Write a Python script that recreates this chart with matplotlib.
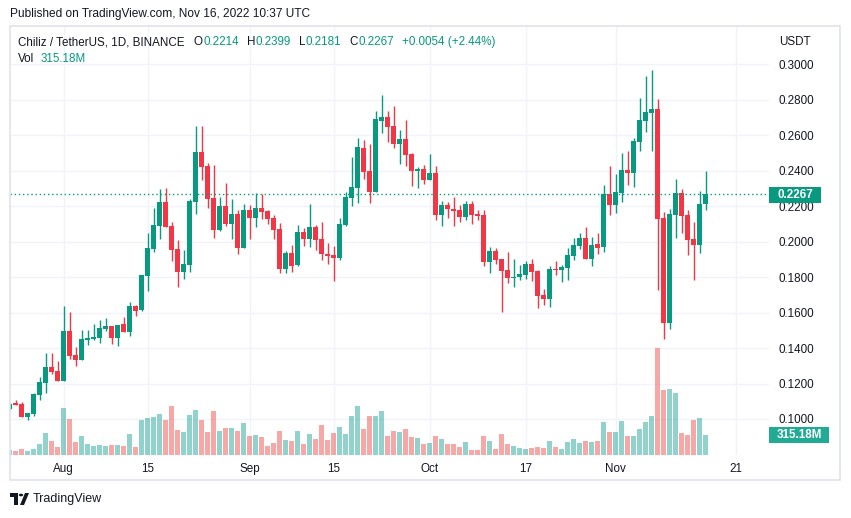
import matplotlib
matplotlib.use("Agg")
import matplotlib.pyplot as plt
import matplotlib.dates as mdates
import matplotlib.transforms as mtransforms
from matplotlib.patches import Rectangle, Polygon, Circle
import pandas as pd

plt.rcParams['font.family'] = ['Liberation Sans', 'DejaVu Sans']

# ---------------- data ----------------
dates = pd.date_range("2022-07-23", "2022-11-16", freq="D")
opens = [0.1058, 0.1090, 0.1082, 0.1011, 0.1026, 0.1135, 0.1203, 0.1291, 0.1269,
         0.1212, 0.1494, 0.1359, 0.1331, 0.1447, 0.1451, 0.1457, 0.1508, 0.1523, 0.1457,
         0.1534, 0.1491, 0.1636, 0.1613, 0.1807, 0.1957, 0.2089, 0.2223, 0.2089, 0.1957,
         0.1829, 0.1871, 0.2223, 0.2505, 0.2426, 0.2245, 0.2067, 0.2200, 0.2100, 0.2155,
         0.1965, 0.2178, 0.2134, 0.2189, 0.2172, 0.2132, 0.2070, 0.1844, 0.1935, 0.1867,
         0.2053, 0.2014, 0.2082, 0.2014, 0.1929, 0.1924, 0.1907, 0.2093, 0.2247, 0.2304,
         0.2528, 0.2398, 0.2281, 0.2682, 0.2703, 0.2652, 0.2552, 0.2578, 0.2494, 0.2400,
         0.2409, 0.2349, 0.2386, 0.2149, 0.2206, 0.2183, 0.2178, 0.2138, 0.2211, 0.2155,
         0.2149, 0.1884, 0.1946, 0.1901, 0.1839, 0.1794, 0.1799, 0.1810, 0.1873, 0.1833,
         0.1698, 0.1675, 0.1844, 0.1839, 0.1850, 0.1918, 0.1974, 0.2019, 0.1901, 0.1986,
         0.1969, 0.2268, 0.2206, 0.2274, 0.2403, 0.2386, 0.2561, 0.2680, 0.2727, 0.2748,
         0.2132, 0.1540, 0.2149, 0.2274, 0.2149, 0.2014, 0.1980, 0.2214]
highs = [0.1090, 0.1109, 0.1094, 0.1035, 0.1146, 0.1237, 0.1370, 0.1370, 0.1325,
         0.1636, 0.1602, 0.1406, 0.1500, 0.1500, 0.1534, 0.1557, 0.1568, 0.1526, 0.1528,
         0.1573, 0.1658, 0.1643, 0.1811, 0.2048, 0.2189, 0.2296, 0.2302, 0.2110, 0.2008,
         0.1952, 0.2242, 0.2652, 0.2652, 0.2443, 0.2432, 0.2251, 0.2330, 0.2240, 0.2178,
         0.2211, 0.2206, 0.2274, 0.2268, 0.2178, 0.2149, 0.2104, 0.1946, 0.1980, 0.2093,
         0.2076, 0.2211, 0.2093, 0.2110, 0.1991, 0.1974, 0.2132, 0.2279, 0.2477, 0.2584,
         0.2573, 0.2550, 0.2737, 0.2827, 0.2737, 0.2765, 0.2629, 0.2686, 0.2499, 0.2420,
         0.2432, 0.2494, 0.2426, 0.2228, 0.2223, 0.2251, 0.2206, 0.2228, 0.2228, 0.2178,
         0.2178, 0.1969, 0.1963, 0.1901, 0.1940, 0.1901, 0.1867, 0.1890, 0.1901, 0.1839,
         0.1731, 0.1861, 0.1890, 0.1867, 0.1963, 0.2019, 0.2048, 0.2082, 0.2025, 0.2048,
         0.2319, 0.2426, 0.2381, 0.2499, 0.2511, 0.2584, 0.2810, 0.2934, 0.2968, 0.2804,
         0.2166, 0.2183, 0.2353, 0.2296, 0.2178, 0.2110, 0.2285, 0.2399]
lows = [0.1050, 0.1077, 0.1011, 0.0992, 0.1015, 0.1105, 0.1146, 0.1252, 0.1212,
        0.1212, 0.1336, 0.1299, 0.1331, 0.1415, 0.1444, 0.1429, 0.1496, 0.1423, 0.1412,
        0.1491, 0.1468, 0.1581, 0.1609, 0.1722, 0.1940, 0.2014, 0.2083, 0.1890, 0.1745,
        0.1790, 0.1829, 0.2157, 0.2349, 0.2191, 0.2021, 0.2061, 0.2089, 0.2016, 0.1929,
        0.1965, 0.2014, 0.2083, 0.2127, 0.2100, 0.2014, 0.1824, 0.1824, 0.1829, 0.1863,
        0.1976, 0.1971, 0.1952, 0.1895, 0.1873, 0.1777, 0.1895, 0.2087, 0.2202, 0.2219,
        0.2353, 0.2219, 0.2281, 0.2614, 0.2563, 0.2530, 0.2439, 0.2428, 0.2313, 0.2302,
        0.2324, 0.2349, 0.2121, 0.2087, 0.2132, 0.2087, 0.2110, 0.2121, 0.2098, 0.2121,
        0.1861, 0.1822, 0.1873, 0.1602, 0.1765, 0.1743, 0.1782, 0.1788, 0.1777, 0.1624,
        0.1641, 0.1630, 0.1811, 0.1771, 0.1782, 0.1895, 0.1957, 0.1901, 0.1861, 0.1929,
        0.1940, 0.2149, 0.2161, 0.2223, 0.2319, 0.2307, 0.2511, 0.2618, 0.2511, 0.1726,
        0.1449, 0.1508, 0.2019, 0.2048, 0.1924, 0.1782, 0.1935, 0.2181]
closes = [0.1087, 0.1080, 0.1011, 0.1033, 0.1139, 0.1207, 0.1291, 0.1263, 0.1212,
          0.1494, 0.1355, 0.1331, 0.1449, 0.1457, 0.1461, 0.1511, 0.1523, 0.1457, 0.1528,
          0.1491, 0.1636, 0.1609, 0.1811, 0.1963, 0.2093, 0.2223, 0.2083, 0.1954, 0.1829,
          0.1873, 0.2228, 0.2505, 0.2422, 0.2242, 0.2067, 0.2200, 0.2100, 0.2155, 0.1965,
          0.2178, 0.2134, 0.2189, 0.2166, 0.2127, 0.2067, 0.1844, 0.1935, 0.1863, 0.2053,
          0.2014, 0.2082, 0.2008, 0.1929, 0.1920, 0.1907, 0.2098, 0.2251, 0.2307, 0.2533,
          0.2392, 0.2281, 0.2691, 0.2703, 0.2648, 0.2552, 0.2578, 0.2490, 0.2400, 0.2409,
          0.2349, 0.2386, 0.2149, 0.2206, 0.2183, 0.2172, 0.2138, 0.2211, 0.2149, 0.2144,
          0.1884, 0.1946, 0.1895, 0.1833, 0.1794, 0.1799, 0.1816, 0.1873, 0.1828, 0.1692,
          0.1675, 0.1844, 0.1839, 0.1856, 0.1924, 0.1980, 0.2019, 0.1901, 0.1980, 0.1963,
          0.2268, 0.2206, 0.2279, 0.2403, 0.2386, 0.2567, 0.2686, 0.2731, 0.2748, 0.2127,
          0.1540, 0.2155, 0.2274, 0.2144, 0.2008, 0.1980, 0.2211, 0.2267]
volumes_m = [79, 63, 95, 63, 95, 173, 347, 221, 126,
             740, 567, 205, 299, 173, 142, 158, 142, 158, 158,
             142, 331, 126, 551, 583, 599, 646, 551, 772, 394,
             362, 630, 709, 551, 362, 693, 378, 425, 425, 378,
             504, 299, 315, 284, 142, 189, 378, 236, 221, 378,
             173, 331, 252, 473, 236, 347, 441, 331, 614, 772,
             410, 614, 614, 693, 299, 378, 362, 410, 284, 268,
             173, 189, 299, 252, 173, 173, 126, 205, 79, 79,
             299, 221, 95, 331, 173, 142, 110, 95, 110, 126,
             110, 221, 126, 95, 205, 252, 189, 221, 205, 221,
             520, 362, 362, 536, 299, 299, 410, 520, 614, 1686,
             1024, 1040, 977, 347, 315, 551, 583, 315.18]
price_ticks = [0.10, 0.12, 0.14, 0.16, 0.18, 0.20, 0.22, 0.24, 0.26, 0.28, 0.30]
x_tick_dates = ["2022-08-01", "2022-08-15", "2022-09-01", "2022-09-15",
                "2022-10-01", "2022-10-17", "2022-11-01", "2022-11-21"]
x_tick_labels = ["Aug", "15", "Sep", "15", "Oct", "17", "Nov", "21"]
last_price = 0.2267
last_volume = "315.18M"
header_symbol = "Chiliz / TetherUS, 1D, BINANCE"
header_ohlc = [("O", "0.2214"), ("H", "0.2399"), ("L", "0.2181"), ("C", "0.2267")]
header_change = "+0.0054 (+2.44%)"

# ---------------- style ----------------
UP, DOWN = '#089981', '#F23645'
VUP, VDOWN = (38/255, 166/255, 154/255, 0.5), (239/255, 83/255, 80/255, 0.5)
GRID = '#F0F3FA'
TXT = '#131722'
FS = 8.4

W, H = 851, 518
fig = plt.figure(figsize=(W / 100, H / 100), dpi=100)
fig.patch.set_facecolor('white')


def fx(x):
    return x / W


def fy(y):
    return 1 - y / H


L, R, T, B = 10, 769, 26, 455
rect = [fx(L), fy(B), (R - L) / W, (B - T) / H]
axv = fig.add_axes(rect)
ax = fig.add_axes(rect, sharex=axv)
ax.set_zorder(axv.get_zorder() + 1)
ax.patch.set_visible(False)

xnum = mdates.date2num(dates)
aug1 = mdates.date2num(pd.Timestamp("2022-08-01"))
ax.set_xlim(aug1 - 8.917, aug1 + 117.58)
ax.set_ylim(0.0797, 0.3216)
axv.set_ylim(0, 429 * 15.76)

# grid (on the bottom axes)
blend = mtransforms.blended_transform_factory(axv.transAxes, ax.transData)
for p in price_ticks:
    axv.plot([0, 1], [p, p], color=GRID, lw=1, transform=blend, zorder=0)
tick_x = mdates.date2num(pd.to_datetime(x_tick_dates))
for tx in tick_x:
    axv.axvline(tx, color=GRID, lw=1, zorder=0)

# volume
vcolors = [VUP if c >= o else VDOWN for o, c in zip(opens, closes)]
axv.bar(xnum, volumes_m, width=0.8, color=vcolors, zorder=2, linewidth=0)

# candles
ccolors = [UP if c >= o else DOWN for o, c in zip(opens, closes)]
ax.vlines(xnum, lows, highs, colors=ccolors, lw=1.0, zorder=3)
bottoms = [min(o, c) for o, c in zip(opens, closes)]
heights = [max(abs(c - o), 0.0004) for o, c in zip(opens, closes)]
ax.bar(xnum, heights, bottom=bottoms, width=0.72, color=ccolors, zorder=4, linewidth=0)

# last price line
ax.axhline(last_price, color=UP, lw=1, ls=(0, (1, 2)), zorder=5)

for a in (ax, axv):
    for s in a.spines.values():
        s.set_visible(False)
axv.set_yticks([])
axv.tick_params(axis='x', length=0, labelbottom=False)

ax.yaxis.tick_right()
ax.set_yticks(price_ticks)
ax.set_yticklabels([f"{p:.4f}" for p in price_ticks])
ax.tick_params(axis='y', length=0, pad=7, labelsize=FS, labelcolor=TXT)
ax.set_xticks(tick_x)
ax.set_xticklabels(x_tick_labels)
ax.tick_params(axis='x', length=0, pad=6, labelsize=FS, labelcolor=TXT)

# outer frame
fig.patches.append(Rectangle((fx(10), fy(480)), (840 - 10) / W, (480 - 26) / H,
                             transform=fig.transFigure, fill=False,
                             edgecolor='#E0E3EB', lw=1.2))

# price badges
fig.patches.append(Rectangle((fx(769), fy(203)), 52 / W, 16 / H, transform=fig.transFigure,
                             facecolor=UP, edgecolor='none', zorder=10))
fig.text(fx(795), fy(195), f"{last_price:.4f}", color='white', fontsize=FS,
         ha='center', va='center', fontweight='bold', zorder=11)
fig.patches.append(Rectangle((fx(769), fy(443)), 60 / W, 16 / H, transform=fig.transFigure,
                             facecolor='#22AB94', edgecolor='none', zorder=10))
fig.text(fx(799), fy(435), last_volume, color='white', fontsize=FS,
         ha='center', va='center', fontweight='bold', zorder=11)
fig.text(fx(779), fy(42), "USDT", color=TXT, fontsize=FS, ha='left', va='center')

# header texts
fig.text(fx(10), fy(14.5), "Published on TradingView.com, Nov 16, 2022 10:37 UTC",
         color=TXT, fontsize=8.6, ha='left', va='center')

renderer = fig.canvas.get_renderer()


def put(x, s, c):
    t = fig.text(fx(x), fy(42), s, color=c, fontsize=FS, ha='left', va='center')
    return x + t.get_window_extent(renderer).width


x = put(18, header_symbol, TXT)
x += 9
for letter, val in header_ohlc:
    x = put(x, letter, TXT)
    x = put(x + 0.5, val, UP)
    x += 8
put(x, header_change, UP)

fig.text(fx(18), fy(59), "Vol", color=TXT, fontsize=FS, ha='left', va='center')
fig.text(fx(41), fy(59), last_volume, color=UP, fontsize=FS, ha='left', va='center')

# TradingView logo
logo = '#131722'
fig.patches.append(Rectangle((fx(10), fy(497)), 8 / W, 4 / H, transform=fig.transFigure,
                             facecolor=logo, edgecolor='none'))
fig.patches.append(Rectangle((fx(14), fy(505)), 4 / W, 12 / H, transform=fig.transFigure,
                             facecolor=logo, edgecolor='none'))
fig.patches.append(Circle((fx(21), fy(495)), 2.2 / W, transform=fig.transFigure,
                          facecolor=logo, edgecolor='none'))
fig.patches.append(Polygon([(fx(20), fy(505)), (fx(24), fy(505)), (fx(29), fy(493)),
                            (fx(25), fy(493))], closed=True, transform=fig.transFigure,
                           facecolor=logo, edgecolor='none'))
fig.text(fx(33), fy(499), "TradingView", color=TXT, fontsize=9, ha='left', va='center')

fig.savefig("out.png", dpi=100)
